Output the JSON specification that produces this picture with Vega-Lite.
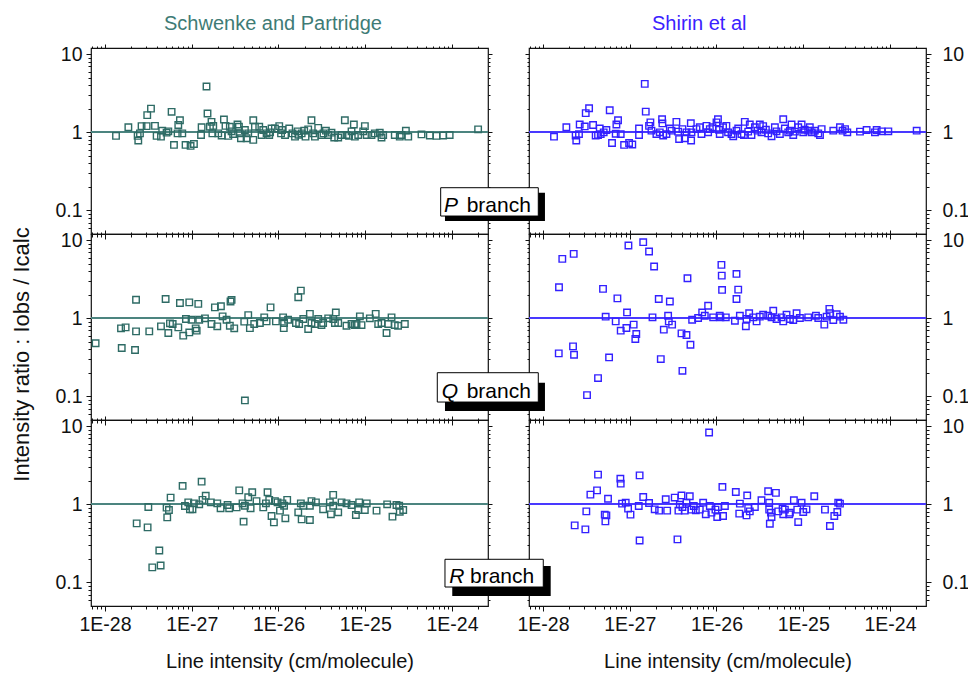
{
"$schema": "https://vega.github.io/schema/vega-lite/v6.json",
"background": "white",
"padding": {"left": 10, "top": 12, "right": 4, "bottom": 2},
"config": {
  "font": "Liberation Sans",
  "view": {"stroke": "#111", "strokeWidth": 1.2},
  "axis": {"domain": false, "grid": false, "tickColor": "#111", "tickWidth": 1, "labelFont": "Liberation Sans", "labelFontSize": 19.5, "labelColor": "#111", "labelFlush": false, "titleFont": "Liberation Sans", "titleFontSize": 20, "titleFontWeight": "normal", "titleColor": "#111"},
  "title": {"font": "Liberation Sans", "fontSize": 20, "fontWeight": "normal"}
},
"datasets": {
"spP": [{"x":1.34e-28,"y":0.9},{"x":1.86e-28,"y":1.16},{"x":2.38e-28,"y":0.9},{"x":2.42e-28,"y":0.785},{"x":2.53e-28,"y":0.97},{"x":2.64e-28,"y":1.2},{"x":3.02e-28,"y":1.2},{"x":3.07e-28,"y":1.66},{"x":3.39e-28,"y":2.01},{"x":3.77e-28,"y":1.21},{"x":3.94e-28,"y":0.9},{"x":4.42e-28,"y":0.88},{"x":4.57e-28,"y":1.05},{"x":5.13e-28,"y":0.99},{"x":5.37e-28,"y":1.03},{"x":5.86e-28,"y":1.83},{"x":6.24e-28,"y":0.69},{"x":6.87e-28,"y":0.97},{"x":7.0e-28,"y":1.24},{"x":7.31e-28,"y":1.43},{"x":7.78e-28,"y":0.97},{"x":8.49e-28,"y":0.69},{"x":9.7e-28,"y":0.67},{"x":1.06e-27,"y":0.71},{"x":1.28e-27,"y":0.925},{"x":1.3e-27,"y":1.16},{"x":1.48e-27,"y":3.86},{"x":1.52e-27,"y":1.74},{"x":1.62e-27,"y":1.18},{"x":1.69e-27,"y":1.36},{"x":1.73e-27,"y":0.97},{"x":1.77e-27,"y":1.21},{"x":2.02e-27,"y":0.97},{"x":2.21e-27,"y":0.91},{"x":2.35e-27,"y":1.46},{"x":2.45e-27,"y":1.21},{"x":2.64e-27,"y":0.9},{"x":2.75e-27,"y":1.18},{"x":2.88e-27,"y":1.03},{"x":3.0e-27,"y":0.95},{"x":3.37e-27,"y":1.26},{"x":3.5e-27,"y":1.18},{"x":3.59e-27,"y":0.97},{"x":3.69e-27,"y":0.84},{"x":4.1e-27,"y":1.07},{"x":4.29e-27,"y":0.84},{"x":4.48e-27,"y":0.97},{"x":5.12e-27,"y":0.8},{"x":5.12e-27,"y":1.43},{"x":5.35e-27,"y":1.18},{"x":6.0e-27,"y":1.18},{"x":6.38e-27,"y":0.925},{"x":6.67e-27,"y":1.07},{"x":7.29e-27,"y":0.97},{"x":7.82e-27,"y":0.925},{"x":8.0e-27,"y":1.0},{"x":8.32e-27,"y":1.12},{"x":9.1e-27,"y":1.12},{"x":1.02e-26,"y":1.2},{"x":1.07e-26,"y":0.97},{"x":1.1e-26,"y":1.07},{"x":1.19e-26,"y":0.925},{"x":1.33e-26,"y":1.12},{"x":1.45e-26,"y":0.97},{"x":1.55e-26,"y":0.88},{"x":1.66e-26,"y":1.03},{"x":1.7e-26,"y":0.93},{"x":1.85e-26,"y":0.97},{"x":1.98e-26,"y":1.05},{"x":2.05e-26,"y":0.88},{"x":2.2e-26,"y":1.09},{"x":2.4e-26,"y":1.43},{"x":2.51e-26,"y":0.97},{"x":2.63e-26,"y":0.88},{"x":2.87e-26,"y":1.14},{"x":3.13e-26,"y":0.925},{"x":3.3e-26,"y":0.97},{"x":3.52e-26,"y":1.05},{"x":3.74e-26,"y":0.925},{"x":4.08e-26,"y":0.99},{"x":4.39e-26,"y":0.86},{"x":4.88e-26,"y":0.86},{"x":5.33e-26,"y":0.925},{"x":5.82e-26,"y":1.43},{"x":6.08e-26,"y":0.925},{"x":6.5e-26,"y":0.9},{"x":6.95e-26,"y":1.03},{"x":7.39e-26,"y":1.26},{"x":7.59e-26,"y":0.88},{"x":8.3e-26,"y":0.925},{"x":9.47e-26,"y":1.03},{"x":9.9e-26,"y":1.2},{"x":1.04e-25,"y":0.925},{"x":1.18e-25,"y":0.925},{"x":1.29e-25,"y":0.97},{"x":1.47e-25,"y":0.99},{"x":1.54e-25,"y":0.86},{"x":1.61e-25,"y":0.925},{"x":2.19e-25,"y":0.925},{"x":2.5e-25,"y":0.88},{"x":2.62e-25,"y":0.925},{"x":2.94e-25,"y":1.05},{"x":3.13e-25,"y":0.88},{"x":4.45e-25,"y":0.94},{"x":5.55e-25,"y":0.91},{"x":6.62e-25,"y":0.9},{"x":7.9e-25,"y":0.91},{"x":9.4e-25,"y":0.925},{"x":2.0e-24,"y":1.09}],
"spQ": [{"x":7.8e-29,"y":0.479},{"x":1.53e-28,"y":0.745},{"x":1.56e-28,"y":0.417},{"x":1.73e-28,"y":0.767},{"x":2.28e-28,"y":1.73},{"x":2.28e-28,"y":0.681},{"x":2.22e-28,"y":0.393},{"x":3.24e-28,"y":0.681},{"x":4.42e-28,"y":0.79},{"x":5.0e-28,"y":1.77},{"x":5.37e-28,"y":0.649},{"x":5.61e-28,"y":0.863},{"x":6.03e-28,"y":0.846},{"x":7.0e-28,"y":0.767},{"x":7.31e-28,"y":1.57},{"x":7.98e-28,"y":0.6},{"x":8.57e-28,"y":0.98},{"x":9.37e-28,"y":1.6},{"x":9.37e-28,"y":0.66},{"x":9.96e-28,"y":0.96},{"x":1.11e-27,"y":0.745},{"x":1.14e-27,"y":0.695},{"x":1.19e-27,"y":1.53},{"x":1.22e-27,"y":0.96},{"x":1.42e-27,"y":1.0},{"x":1.69e-27,"y":0.846},{"x":1.85e-27,"y":1.38},{"x":1.97e-27,"y":0.79},{"x":2.17e-27,"y":1.43},{"x":2.27e-27,"y":1.06},{"x":2.52e-27,"y":0.96},{"x":2.75e-27,"y":0.805},{"x":2.8e-27,"y":1.64},{"x":2.88e-27,"y":1.72},{"x":3.09e-27,"y":0.745},{"x":4.03e-27,"y":0.906},{"x":4.1e-27,"y":0.089},{"x":4.48e-27,"y":1.1},{"x":4.68e-27,"y":0.75},{"x":5.25e-27,"y":0.846},{"x":6.1e-27,"y":0.87},{"x":6.85e-27,"y":1.03},{"x":7.29e-27,"y":0.915},{"x":8.1e-27,"y":1.38},{"x":9.34e-27,"y":0.915},{"x":1.13e-26,"y":1.03},{"x":1.15e-26,"y":0.75},{"x":1.16e-26,"y":0.87},{"x":1.29e-26,"y":0.96},{"x":1.59e-26,"y":0.87},{"x":1.69e-26,"y":1.86},{"x":1.81e-26,"y":2.26},{"x":1.73e-26,"y":0.846},{"x":1.93e-26,"y":0.98},{"x":2.2e-26,"y":0.73},{"x":2.3e-26,"y":1.14},{"x":2.4e-26,"y":0.87},{"x":2.63e-26,"y":0.846},{"x":2.87e-26,"y":0.98},{"x":3.13e-26,"y":0.82},{"x":3.27e-26,"y":0.87},{"x":3.74e-26,"y":1.0},{"x":4.28e-26,"y":0.98},{"x":4.47e-26,"y":0.87},{"x":4.58e-26,"y":1.19},{"x":4.88e-26,"y":0.87},{"x":6.08e-26,"y":0.805},{"x":6.95e-26,"y":0.846},{"x":7.59e-26,"y":0.82},{"x":7.93e-26,"y":0.846},{"x":8.67e-26,"y":1.06},{"x":9.06e-26,"y":0.82},{"x":1.13e-25,"y":1.0},{"x":1.32e-25,"y":1.14},{"x":1.41e-25,"y":0.846},{"x":1.54e-25,"y":0.87},{"x":1.76e-25,"y":0.649},{"x":1.84e-25,"y":0.846},{"x":2.01e-25,"y":1.03},{"x":2.19e-25,"y":0.82},{"x":2.39e-25,"y":0.805},{"x":2.86e-25,"y":0.846}],
"spR": [{"x":2.32e-28,"y":0.571},{"x":3.1e-28,"y":0.507},{"x":3.16e-28,"y":0.924},{"x":3.51e-28,"y":0.156},{"x":4.23e-28,"y":0.257},{"x":4.38e-28,"y":0.165},{"x":5.13e-28,"y":0.906},{"x":5.22e-28,"y":0.681},{"x":5.46e-28,"y":0.846},{"x":5.71e-28,"y":1.22},{"x":7.85e-28,"y":1.72},{"x":8.35e-28,"y":0.952},{"x":9.12e-28,"y":1.06},{"x":9.53e-28,"y":0.863},{"x":1.02e-27,"y":0.863},{"x":1.06e-27,"y":1.03},{"x":1.22e-27,"y":1.0},{"x":1.3e-27,"y":1.95},{"x":1.33e-27,"y":1.14},{"x":1.45e-27,"y":1.29},{"x":1.66e-27,"y":1.06},{"x":1.97e-27,"y":1.03},{"x":2.15e-27,"y":0.889},{"x":2.59e-27,"y":0.98},{"x":2.7e-27,"y":0.889},{"x":3.29e-27,"y":0.915},{"x":3.53e-27,"y":1.51},{"x":3.85e-27,"y":1.03},{"x":3.96e-27,"y":0.6},{"x":4.1e-27,"y":0.96},{"x":4.48e-27,"y":1.23},{"x":4.77e-27,"y":0.889},{"x":4.98e-27,"y":1.43},{"x":5.58e-27,"y":1.1},{"x":6.67e-27,"y":0.915},{"x":7.16e-27,"y":1.03},{"x":7.48e-27,"y":1.43},{"x":7.82e-27,"y":1.14},{"x":8.32e-27,"y":0.709},{"x":8.85e-27,"y":0.588},{"x":9.1e-27,"y":1.1},{"x":9.75e-27,"y":1.06},{"x":1.04e-26,"y":0.83},{"x":1.11e-26,"y":1.03},{"x":1.16e-26,"y":0.96},{"x":1.2e-26,"y":0.662},{"x":1.26e-26,"y":1.14},{"x":1.69e-26,"y":0.79},{"x":1.81e-26,"y":1.03},{"x":1.85e-26,"y":0.642},{"x":1.93e-26,"y":0.96},{"x":2.3e-26,"y":0.96},{"x":2.3e-26,"y":0.63},{"x":2.4e-26,"y":1.1},{"x":2.7e-26,"y":1.06},{"x":3.27e-26,"y":0.863},{"x":3.91e-26,"y":1.06},{"x":4.02e-26,"y":0.745},{"x":4.27e-26,"y":1.32},{"x":4.27e-26,"y":0.96},{"x":4.88e-26,"y":0.79},{"x":5.33e-26,"y":1.06},{"x":6.08e-26,"y":1.03},{"x":6.95e-26,"y":0.98},{"x":7.8e-26,"y":0.73},{"x":8.3e-26,"y":0.846},{"x":8.51e-26,"y":1.06},{"x":9.89e-26,"y":0.846},{"x":1.04e-25,"y":1.03},{"x":1.35e-25,"y":0.83},{"x":1.79e-25,"y":1.0},{"x":2.06e-25,"y":0.695},{"x":2.29e-25,"y":0.98},{"x":2.46e-25,"y":0.96},{"x":2.5e-25,"y":0.805},{"x":2.74e-25,"y":0.846}],
"shP": [{"x":1.34e-28,"y":0.88},{"x":1.86e-28,"y":1.16},{"x":2.38e-28,"y":0.91},{"x":2.42e-28,"y":0.785},{"x":2.6e-28,"y":0.95},{"x":2.65e-28,"y":1.26},{"x":3.03e-28,"y":1.19},{"x":3.11e-28,"y":1.76},{"x":3.4e-28,"y":2.03},{"x":3.78e-28,"y":1.24},{"x":4.05e-28,"y":0.91},{"x":4.31e-28,"y":0.925},{"x":4.51e-28,"y":1.12},{"x":4.63e-28,"y":0.95},{"x":5.01e-28,"y":1.0},{"x":5.38e-28,"y":1.07},{"x":5.88e-28,"y":1.92},{"x":6.25e-28,"y":0.73},{"x":6.89e-28,"y":0.96},{"x":7.02e-28,"y":1.26},{"x":7.33e-28,"y":1.43},{"x":7.87e-28,"y":0.95},{"x":8.61e-28,"y":0.69},{"x":9.83e-28,"y":0.73},{"x":1.07e-27,"y":0.7},{"x":1.28e-27,"y":1.12},{"x":1.28e-27,"y":0.925},{"x":1.49e-27,"y":4.17},{"x":1.53e-27,"y":1.84},{"x":1.67e-27,"y":1.21},{"x":1.73e-27,"y":1.34},{"x":1.78e-27,"y":1.05},{"x":2.03e-27,"y":0.95},{"x":2.22e-27,"y":1.0},{"x":2.36e-27,"y":1.47},{"x":2.38e-27,"y":1.3},{"x":2.43e-27,"y":0.91},{"x":2.65e-27,"y":0.95},{"x":2.9e-27,"y":1.12},{"x":3.03e-27,"y":1.05},{"x":3.45e-27,"y":1.36},{"x":3.61e-27,"y":1.02},{"x":3.71e-27,"y":0.82},{"x":4.05e-27,"y":1.1},{"x":4.31e-27,"y":0.84},{"x":4.51e-27,"y":1.0},{"x":5.06e-27,"y":1.31},{"x":5.1e-27,"y":0.785},{"x":5.15e-27,"y":1.0},{"x":5.88e-27,"y":1.1},{"x":6.42e-27,"y":1.16},{"x":6.71e-27,"y":0.95},{"x":7.67e-27,"y":1.21},{"x":8.01e-27,"y":1.0},{"x":8.38e-27,"y":1.1},{"x":8.99e-27,"y":1.16},{"x":1.0e-26,"y":1.34},{"x":1.04e-26,"y":1.47},{"x":1.07e-26,"y":1.08},{"x":1.09e-26,"y":0.95},{"x":1.19e-26,"y":1.16},{"x":1.3e-26,"y":1.21},{"x":1.36e-26,"y":1.0},{"x":1.49e-26,"y":0.95},{"x":1.56e-26,"y":0.89},{"x":1.7e-26,"y":1.05},{"x":1.78e-26,"y":1.12},{"x":1.94e-26,"y":0.95},{"x":2.07e-26,"y":0.925},{"x":2.12e-26,"y":1.36},{"x":2.32e-26,"y":1.02},{"x":2.42e-26,"y":1.26},{"x":2.53e-26,"y":0.925},{"x":2.77e-26,"y":1.16},{"x":2.97e-26,"y":1.05},{"x":3.16e-26,"y":1.26},{"x":3.3e-26,"y":1.0},{"x":3.45e-26,"y":1.2},{"x":3.71e-26,"y":1.08},{"x":3.94e-26,"y":0.97},{"x":4.31e-26,"y":0.89},{"x":4.71e-26,"y":1.16},{"x":4.92e-26,"y":1.03},{"x":5.38e-26,"y":0.95},{"x":5.88e-26,"y":1.47},{"x":6.14e-26,"y":1.12},{"x":6.71e-26,"y":1.0},{"x":7.02e-26,"y":1.05},{"x":7.33e-26,"y":1.26},{"x":7.67e-26,"y":0.925},{"x":8.01e-26,"y":1.02},{"x":8.75e-26,"y":1.16},{"x":9.57e-26,"y":1.26},{"x":1.0e-25,"y":1.0},{"x":1.04e-25,"y":1.08},{"x":1.14e-25,"y":1.05},{"x":1.19e-25,"y":1.16},{"x":1.25e-25,"y":1.0},{"x":1.36e-25,"y":1.05},{"x":1.49e-25,"y":0.97},{"x":1.56e-25,"y":0.925},{"x":1.63e-25,"y":1.1},{"x":2.22e-25,"y":1.05},{"x":2.65e-25,"y":1.16},{"x":2.84e-25,"y":1.05},{"x":3.03e-25,"y":1.1},{"x":3.22e-25,"y":1.0},{"x":4.51e-25,"y":1.02},{"x":5.38e-25,"y":1.07},{"x":6.71e-25,"y":1.0},{"x":7.02e-25,"y":1.07},{"x":8.01e-25,"y":1.03},{"x":9.57e-25,"y":1.03},{"x":2.03e-24,"y":1.05}],
"shQ": [{"x":1.53e-28,"y":2.5},{"x":1.52e-28,"y":0.356},{"x":1.67e-28,"y":5.77},{"x":2.22e-28,"y":0.438},{"x":2.26e-28,"y":6.68},{"x":2.28e-28,"y":0.342},{"x":3.22e-28,"y":0.104},{"x":4.31e-28,"y":0.172},{"x":4.92e-28,"y":2.38},{"x":5.28e-28,"y":1.05},{"x":5.78e-28,"y":0.316},{"x":6.89e-28,"y":0.915},{"x":7.21e-28,"y":1.8},{"x":7.87e-28,"y":0.695},{"x":9.15e-28,"y":0.752},{"x":9.31e-28,"y":1.19},{"x":9.66e-28,"y":8.55},{"x":1.11e-27,"y":0.83},{"x":1.16e-27,"y":0.543},{"x":1.19e-27,"y":0.63},{"x":1.43e-27,"y":9.43},{"x":1.67e-27,"y":7.16},{"x":1.83e-27,"y":1.03},{"x":1.91e-27,"y":4.6},{"x":2.16e-27,"y":1.77},{"x":2.28e-27,"y":0.301},{"x":2.47e-27,"y":0.716},{"x":2.77e-27,"y":1.08},{"x":2.82e-27,"y":0.915},{"x":2.9e-27,"y":1.64},{"x":3.08e-27,"y":0.83},{"x":3.95e-27,"y":0.642},{"x":4.05e-27,"y":0.213},{"x":4.51e-27,"y":0.612},{"x":4.63e-27,"y":3.26},{"x":5.01e-27,"y":0.46},{"x":5.24e-27,"y":0.96},{"x":6.14e-27,"y":1.01},{"x":6.84e-27,"y":1.19},{"x":7.33e-27,"y":1.08},{"x":8.01e-27,"y":1.45},{"x":9.15e-27,"y":1.03},{"x":1.09e-26,"y":1.08},{"x":1.11e-26,"y":1.03},{"x":1.14e-26,"y":4.83},{"x":1.15e-26,"y":3.52},{"x":1.16e-26,"y":2.31},{"x":1.28e-26,"y":1.03},{"x":1.63e-26,"y":0.93},{"x":1.7e-26,"y":3.7},{"x":1.78e-26,"y":2.33},{"x":1.7e-26,"y":1.77},{"x":1.86e-26,"y":1.08},{"x":2.18e-26,"y":0.79},{"x":2.22e-26,"y":0.98},{"x":2.38e-26,"y":1.16},{"x":2.65e-26,"y":1.03},{"x":2.9e-26,"y":0.915},{"x":3.16e-26,"y":1.05},{"x":3.45e-26,"y":1.11},{"x":3.94e-26,"y":1.08},{"x":4.31e-26,"y":1.03},{"x":4.51e-26,"y":1.25},{"x":4.92e-26,"y":0.98},{"x":5.62e-26,"y":1.03},{"x":5.88e-26,"y":0.915},{"x":6.42e-26,"y":1.11},{"x":7.02e-26,"y":0.98},{"x":7.67e-26,"y":0.95},{"x":8.38e-26,"y":1.16},{"x":9.15e-26,"y":1.01},{"x":1.14e-25,"y":1.03},{"x":1.4e-25,"y":1.08},{"x":1.49e-25,"y":1.01},{"x":1.75e-25,"y":0.83},{"x":1.86e-25,"y":1.05},{"x":2.0e-25,"y":1.32},{"x":2.03e-25,"y":1.16},{"x":2.22e-25,"y":0.95},{"x":2.43e-25,"y":1.13},{"x":2.65e-25,"y":1.05},{"x":2.9e-25,"y":0.96}],
"shR": [{"x":2.32e-28,"y":0.538},{"x":3.08e-28,"y":0.478},{"x":3.16e-28,"y":0.813},{"x":3.52e-28,"y":1.33},{"x":4.2e-28,"y":1.51},{"x":4.31e-28,"y":2.4},{"x":5.15e-28,"y":0.738},{"x":5.24e-28,"y":0.605},{"x":5.38e-28,"y":0.723},{"x":5.62e-28,"y":1.18},{"x":7.8e-28,"y":2.13},{"x":7.87e-28,"y":1.84},{"x":8.16e-28,"y":1.02},{"x":8.99e-28,"y":1.05},{"x":9.57e-28,"y":0.88},{"x":1.02e-27,"y":0.738},{"x":1.27e-27,"y":0.952},{"x":1.3e-27,"y":2.35},{"x":1.3e-27,"y":0.345},{"x":1.43e-27,"y":1.24},{"x":1.67e-27,"y":1.04},{"x":1.94e-27,"y":0.863},{"x":2.18e-27,"y":0.83},{"x":2.6e-27,"y":1.16},{"x":2.7e-27,"y":0.83},{"x":3.3e-27,"y":1.22},{"x":3.55e-27,"y":0.356},{"x":3.64e-27,"y":0.83},{"x":3.78e-27,"y":0.99},{"x":3.95e-27,"y":1.3},{"x":4.05e-27,"y":0.924},{"x":4.31e-27,"y":0.83},{"x":4.51e-27,"y":1.05},{"x":4.92e-27,"y":1.27},{"x":5.15e-27,"y":0.855},{"x":5.47e-27,"y":0.952},{"x":5.78e-27,"y":0.838},{"x":6.42e-27,"y":0.855},{"x":7.02e-27,"y":1.05},{"x":7.53e-27,"y":0.745},{"x":8.22e-27,"y":8.3},{"x":8.38e-27,"y":0.952},{"x":8.75e-27,"y":0.782},{"x":9.73e-27,"y":0.855},{"x":1.02e-26,"y":0.688},{"x":1.04e-26,"y":0.924},{"x":1.17e-26,"y":1.67},{"x":1.19e-26,"y":0.709},{"x":1.25e-26,"y":0.952},{"x":1.67e-26,"y":1.44},{"x":1.83e-26,"y":0.76},{"x":1.86e-26,"y":1.02},{"x":2.22e-26,"y":0.723},{"x":2.26e-26,"y":1.3},{"x":2.32e-26,"y":0.897},{"x":2.42e-26,"y":0.813},{"x":2.77e-26,"y":0.924},{"x":3.3e-26,"y":1.13},{"x":3.94e-26,"y":1.47},{"x":4.05e-26,"y":1.05},{"x":4.05e-26,"y":0.855},{"x":4.12e-26,"y":0.565},{"x":4.24e-26,"y":0.782},{"x":4.31e-26,"y":0.688},{"x":4.84e-26,"y":1.4},{"x":5.15e-26,"y":0.813},{"x":5.78e-26,"y":0.88},{"x":5.88e-26,"y":0.745},{"x":6.14e-26,"y":0.855},{"x":6.89e-26,"y":0.745},{"x":7.02e-26,"y":0.782},{"x":7.8e-26,"y":1.13},{"x":8.53e-26,"y":0.855},{"x":8.75e-26,"y":0.593},{"x":9.57e-26,"y":1.05},{"x":1.0e-25,"y":0.797},{"x":1.09e-25,"y":0.863},{"x":1.34e-25,"y":1.27},{"x":1.78e-25,"y":0.855},{"x":2.03e-25,"y":0.528},{"x":2.28e-25,"y":0.709},{"x":2.47e-25,"y":0.797},{"x":2.53e-25,"y":1.05},{"x":2.65e-25,"y":1.02}]
},
"columns": 2,
"spacing": {"row": 0, "column": 41},
"bounds": "flush",
"concat": [
{
 "width": 397, "height": 186,
 "title": {"text": "Schwenke and Partridge", "color": "#3e7b75", "anchor": "start", "frame": "group", "dx": 73, "offset": -6, "baseline": "alphabetic"},
 "data": {"name": "spP"},
 "layer": [
  {"mark": {"type": "rule", "color": "#4b857f", "strokeWidth": 1.3}, "encoding": {"y": {"datum": 1, "type": "quantitative", "scale": {"type": "log", "domain": [0.05, 12], "nice": false}, "axis": null}}},
  {"mark": {"type": "square", "filled": false, "size": 42, "strokeWidth": 1.4, "color": "#2e6b65", "opacity": 1},
   "encoding": {"x": {"field": "x", "type": "quantitative", "scale": {"type": "log", "domain": [6.9e-29, 2.6e-24], "nice": false}, "axis": {"orient": "bottom", "values": [1e-28,1e-27,1e-26,1e-25,1e-24], "labels": false, "tickSize": 5, "title": null}},
                "y": {"field": "y", "type": "quantitative", "scale": {"type": "log", "domain": [0.05, 12], "nice": false}, "axis": {"orient": "left", "values": [0.1,1,10], "format": "~g", "tickSize": 5, "labelPadding": 4, "title": null}}}},
  {"mark": {"type": "point", "opacity": 0},
   "encoding": {"x": {"field": "x", "type": "quantitative", "scale": {"type": "log", "domain": [6.9e-29, 2.6e-24], "nice": false}, "axis": {"orient": "bottom", "values": [7e-29,8e-29,9e-29,2e-28,3e-28,4e-28,5e-28,6e-28,7e-28,8e-28,9e-28,2e-27,3e-27,4e-27,5e-27,6e-27,7e-27,8e-27,9e-27,2e-26,3e-26,4e-26,5e-26,6e-26,7e-26,8e-26,9e-26,2e-25,3e-25,4e-25,5e-25,6e-25,7e-25,8e-25,9e-25,2e-24], "labels": false, "tickSize": 3, "title": null}},
                "y": {"field": "y", "type": "quantitative", "scale": {"type": "log", "domain": [0.05, 12], "nice": false}, "axis": {"orient": "left", "values": [0.06,0.07,0.08,0.09,0.2,0.3,0.4,0.5,0.6,0.7,0.8,0.9,2,3,4,5,6,7,8,9], "labels": false, "tickSize": 3, "title": null}}}},
  {"mark": {"type": "point", "opacity": 0},
   "encoding": {"x": {"field": "x", "type": "quantitative", "scale": {"type": "log", "domain": [6.9e-29, 2.6e-24], "nice": false}, "axis": {"orient": "top", "values": [1e-28,1e-27,1e-26,1e-25,1e-24], "labels": false, "tickSize": 4, "title": null}},
                "y": {"field": "y", "type": "quantitative", "scale": {"type": "log", "domain": [0.05, 12], "nice": false}, "axis": {"orient": "right", "values": [0.1,1,10], "labels": false, "tickSize": 4, "title": null}}}},
  {"mark": {"type": "point", "opacity": 0},
   "encoding": {"x": {"field": "x", "type": "quantitative", "scale": {"type": "log", "domain": [6.9e-29, 2.6e-24], "nice": false}, "axis": {"orient": "top", "values": [7e-29,8e-29,9e-29,2e-28,3e-28,4e-28,5e-28,6e-28,7e-28,8e-28,9e-28,2e-27,3e-27,4e-27,5e-27,6e-27,7e-27,8e-27,9e-27,2e-26,3e-26,4e-26,5e-26,6e-26,7e-26,8e-26,9e-26,2e-25,3e-25,4e-25,5e-25,6e-25,7e-25,8e-25,9e-25,2e-24], "labels": false, "tickSize": 2, "title": null}},
                "y": {"field": "y", "type": "quantitative", "scale": {"type": "log", "domain": [0.05, 12], "nice": false}, "axis": {"orient": "right", "values": [0.06,0.07,0.08,0.09,0.2,0.3,0.4,0.5,0.6,0.7,0.8,0.9,2,3,4,5,6,7,8,9], "labels": false, "tickSize": 2, "title": null}}}}
 ],
 "resolve": {"axis": {"x": "independent", "y": "independent"}}
},
{
 "width": 397, "height": 186,
 "title": {"text": "Shirin et al", "color": "#3b22ff", "anchor": "start", "frame": "group", "dx": 123, "offset": -6, "baseline": "alphabetic"},
 "data": {"name": "shP"},
 "layer": [
  {"mark": {"type": "rule", "color": "#4a3aff", "strokeWidth": 1.3}, "encoding": {"y": {"datum": 1, "type": "quantitative", "scale": {"type": "log", "domain": [0.05, 12], "nice": false}, "axis": null}}},
  {"mark": {"type": "square", "filled": false, "size": 42, "strokeWidth": 1.4, "color": "#3320ff", "opacity": 1},
   "encoding": {"x": {"field": "x", "type": "quantitative", "scale": {"type": "log", "domain": [6.9e-29, 2.6e-24], "nice": false}, "axis": {"orient": "bottom", "values": [1e-28,1e-27,1e-26,1e-25,1e-24], "labels": false, "tickSize": 5, "title": null}},
                "y": {"field": "y", "type": "quantitative", "scale": {"type": "log", "domain": [0.05, 12], "nice": false}, "axis": {"orient": "right", "values": [0.1,1,10], "format": "~g", "tickSize": 5, "labelPadding": 11, "title": null}}}},
  {"mark": {"type": "point", "opacity": 0},
   "encoding": {"x": {"field": "x", "type": "quantitative", "scale": {"type": "log", "domain": [6.9e-29, 2.6e-24], "nice": false}, "axis": {"orient": "bottom", "values": [7e-29,8e-29,9e-29,2e-28,3e-28,4e-28,5e-28,6e-28,7e-28,8e-28,9e-28,2e-27,3e-27,4e-27,5e-27,6e-27,7e-27,8e-27,9e-27,2e-26,3e-26,4e-26,5e-26,6e-26,7e-26,8e-26,9e-26,2e-25,3e-25,4e-25,5e-25,6e-25,7e-25,8e-25,9e-25,2e-24], "labels": false, "tickSize": 3, "title": null}},
                "y": {"field": "y", "type": "quantitative", "scale": {"type": "log", "domain": [0.05, 12], "nice": false}, "axis": {"orient": "right", "values": [0.06,0.07,0.08,0.09,0.2,0.3,0.4,0.5,0.6,0.7,0.8,0.9,2,3,4,5,6,7,8,9], "labels": false, "tickSize": 3, "title": null}}}},
  {"mark": {"type": "point", "opacity": 0},
   "encoding": {"x": {"field": "x", "type": "quantitative", "scale": {"type": "log", "domain": [6.9e-29, 2.6e-24], "nice": false}, "axis": {"orient": "top", "values": [1e-28,1e-27,1e-26,1e-25,1e-24], "labels": false, "tickSize": 4, "title": null}},
                "y": {"field": "y", "type": "quantitative", "scale": {"type": "log", "domain": [0.05, 12], "nice": false}, "axis": {"orient": "left", "values": [0.1,1,10], "labels": false, "tickSize": 4, "title": null}}}},
  {"mark": {"type": "point", "opacity": 0},
   "encoding": {"x": {"field": "x", "type": "quantitative", "scale": {"type": "log", "domain": [6.9e-29, 2.6e-24], "nice": false}, "axis": {"orient": "top", "values": [7e-29,8e-29,9e-29,2e-28,3e-28,4e-28,5e-28,6e-28,7e-28,8e-28,9e-28,2e-27,3e-27,4e-27,5e-27,6e-27,7e-27,8e-27,9e-27,2e-26,3e-26,4e-26,5e-26,6e-26,7e-26,8e-26,9e-26,2e-25,3e-25,4e-25,5e-25,6e-25,7e-25,8e-25,9e-25,2e-24], "labels": false, "tickSize": 2, "title": null}},
                "y": {"field": "y", "type": "quantitative", "scale": {"type": "log", "domain": [0.05, 12], "nice": false}, "axis": {"orient": "left", "values": [0.06,0.07,0.08,0.09,0.2,0.3,0.4,0.5,0.6,0.7,0.8,0.9,2,3,4,5,6,7,8,9], "labels": false, "tickSize": 2, "title": null}}}},
  {"data": {"values": [{}]}, "mark": {"type": "rect", "color": "black"},
   "encoding": {"x": {"datum": 7.42e-30, "type": "quantitative", "scale": {"type": "log", "domain": [6.9e-29, 2.6e-24], "nice": false}, "axis": null}, "x2": {"datum": 1.054e-28},
                "y": {"datum": 0.1688, "type": "quantitative", "scale": {"type": "log", "domain": [0.05, 12], "nice": false}, "axis": null}, "y2": {"datum": 0.0733}}},
  {"data": {"values": [{}]}, "mark": {"type": "rect", "fill": "white", "stroke": "black", "strokeWidth": 1},
   "encoding": {"x": {"datum": 6.62e-30, "type": "quantitative", "scale": {"type": "log", "domain": [6.9e-29, 2.6e-24], "nice": false}, "axis": null}, "x2": {"datum": 8.83e-29},
                "y": {"datum": 0.1956, "type": "quantitative", "scale": {"type": "log", "domain": [0.05, 12], "nice": false}, "axis": null}, "y2": {"datum": 0.0849}}},
  {"data": {"values": [{}]}, "mark": {"type": "text", "text": "P", "font": "Liberation Sans", "fontStyle": "italic", "fontSize": 21, "align": "left", "baseline": "alphabetic", "color": "black"},
   "encoding": {"x": {"datum": 7.22e-30, "type": "quantitative", "scale": {"type": "log", "domain": [6.9e-29, 2.6e-24], "nice": false}, "axis": null},
                "y": {"datum": 0.0964, "type": "quantitative", "scale": {"type": "log", "domain": [0.05, 12], "nice": false}, "axis": null}}},
  {"data": {"values": [{}]}, "mark": {"type": "text", "text": "branch", "font": "Liberation Sans", "fontSize": 21, "align": "left", "baseline": "alphabetic", "color": "black"},
   "encoding": {"x": {"datum": 1.32e-29, "type": "quantitative", "scale": {"type": "log", "domain": [6.9e-29, 2.6e-24], "nice": false}, "axis": null},
                "y": {"datum": 0.0964, "type": "quantitative", "scale": {"type": "log", "domain": [0.05, 12], "nice": false}, "axis": null}}}
 ],
 "resolve": {"axis": {"x": "independent", "y": "independent"}}
},
{
 "width": 397, "height": 186,
 "data": {"name": "spQ"},
 "layer": [
  {"mark": {"type": "rule", "color": "#4b857f", "strokeWidth": 1.3}, "encoding": {"y": {"datum": 1, "type": "quantitative", "scale": {"type": "log", "domain": [0.05, 12], "nice": false}, "axis": null}}},
  {"mark": {"type": "square", "filled": false, "size": 42, "strokeWidth": 1.4, "color": "#2e6b65", "opacity": 1},
   "encoding": {"x": {"field": "x", "type": "quantitative", "scale": {"type": "log", "domain": [6.9e-29, 2.6e-24], "nice": false}, "axis": {"orient": "bottom", "values": [1e-28,1e-27,1e-26,1e-25,1e-24], "labels": false, "tickSize": 5, "title": null}},
                "y": {"field": "y", "type": "quantitative", "scale": {"type": "log", "domain": [0.05, 12], "nice": false}, "axis": {"orient": "left", "values": [0.1,1,10], "format": "~g", "tickSize": 5, "labelPadding": 4, "title": "Intensity ratio : Iobs / Icalc", "titleFontSize": 22, "titlePadding": 21, "titleY": 120}}}},
  {"mark": {"type": "point", "opacity": 0},
   "encoding": {"x": {"field": "x", "type": "quantitative", "scale": {"type": "log", "domain": [6.9e-29, 2.6e-24], "nice": false}, "axis": {"orient": "bottom", "values": [7e-29,8e-29,9e-29,2e-28,3e-28,4e-28,5e-28,6e-28,7e-28,8e-28,9e-28,2e-27,3e-27,4e-27,5e-27,6e-27,7e-27,8e-27,9e-27,2e-26,3e-26,4e-26,5e-26,6e-26,7e-26,8e-26,9e-26,2e-25,3e-25,4e-25,5e-25,6e-25,7e-25,8e-25,9e-25,2e-24], "labels": false, "tickSize": 3, "title": null}},
                "y": {"field": "y", "type": "quantitative", "scale": {"type": "log", "domain": [0.05, 12], "nice": false}, "axis": {"orient": "left", "values": [0.06,0.07,0.08,0.09,0.2,0.3,0.4,0.5,0.6,0.7,0.8,0.9,2,3,4,5,6,7,8,9], "labels": false, "tickSize": 3, "title": null}}}},
  {"mark": {"type": "point", "opacity": 0},
   "encoding": {"x": {"field": "x", "type": "quantitative", "scale": {"type": "log", "domain": [6.9e-29, 2.6e-24], "nice": false}, "axis": {"orient": "top", "values": [1e-28,1e-27,1e-26,1e-25,1e-24], "labels": false, "tickSize": 4, "title": null}},
                "y": {"field": "y", "type": "quantitative", "scale": {"type": "log", "domain": [0.05, 12], "nice": false}, "axis": {"orient": "right", "values": [0.1,1,10], "labels": false, "tickSize": 4, "title": null}}}},
  {"mark": {"type": "point", "opacity": 0},
   "encoding": {"x": {"field": "x", "type": "quantitative", "scale": {"type": "log", "domain": [6.9e-29, 2.6e-24], "nice": false}, "axis": {"orient": "top", "values": [7e-29,8e-29,9e-29,2e-28,3e-28,4e-28,5e-28,6e-28,7e-28,8e-28,9e-28,2e-27,3e-27,4e-27,5e-27,6e-27,7e-27,8e-27,9e-27,2e-26,3e-26,4e-26,5e-26,6e-26,7e-26,8e-26,9e-26,2e-25,3e-25,4e-25,5e-25,6e-25,7e-25,8e-25,9e-25,2e-24], "labels": false, "tickSize": 2, "title": null}},
                "y": {"field": "y", "type": "quantitative", "scale": {"type": "log", "domain": [0.05, 12], "nice": false}, "axis": {"orient": "right", "values": [0.06,0.07,0.08,0.09,0.2,0.3,0.4,0.5,0.6,0.7,0.8,0.9,2,3,4,5,6,7,8,9], "labels": false, "tickSize": 2, "title": null}}}}
 ],
 "resolve": {"axis": {"x": "independent", "y": "independent"}}
},
{
 "width": 397, "height": 186,
 "data": {"name": "shQ"},
 "layer": [
  {"mark": {"type": "rule", "color": "#4a3aff", "strokeWidth": 1.3}, "encoding": {"y": {"datum": 1, "type": "quantitative", "scale": {"type": "log", "domain": [0.05, 12], "nice": false}, "axis": null}}},
  {"mark": {"type": "square", "filled": false, "size": 42, "strokeWidth": 1.4, "color": "#3320ff", "opacity": 1},
   "encoding": {"x": {"field": "x", "type": "quantitative", "scale": {"type": "log", "domain": [6.9e-29, 2.6e-24], "nice": false}, "axis": {"orient": "bottom", "values": [1e-28,1e-27,1e-26,1e-25,1e-24], "labels": false, "tickSize": 5, "title": null}},
                "y": {"field": "y", "type": "quantitative", "scale": {"type": "log", "domain": [0.05, 12], "nice": false}, "axis": {"orient": "right", "values": [0.1,1,10], "format": "~g", "tickSize": 5, "labelPadding": 11, "title": null}}}},
  {"mark": {"type": "point", "opacity": 0},
   "encoding": {"x": {"field": "x", "type": "quantitative", "scale": {"type": "log", "domain": [6.9e-29, 2.6e-24], "nice": false}, "axis": {"orient": "bottom", "values": [7e-29,8e-29,9e-29,2e-28,3e-28,4e-28,5e-28,6e-28,7e-28,8e-28,9e-28,2e-27,3e-27,4e-27,5e-27,6e-27,7e-27,8e-27,9e-27,2e-26,3e-26,4e-26,5e-26,6e-26,7e-26,8e-26,9e-26,2e-25,3e-25,4e-25,5e-25,6e-25,7e-25,8e-25,9e-25,2e-24], "labels": false, "tickSize": 3, "title": null}},
                "y": {"field": "y", "type": "quantitative", "scale": {"type": "log", "domain": [0.05, 12], "nice": false}, "axis": {"orient": "right", "values": [0.06,0.07,0.08,0.09,0.2,0.3,0.4,0.5,0.6,0.7,0.8,0.9,2,3,4,5,6,7,8,9], "labels": false, "tickSize": 3, "title": null}}}},
  {"mark": {"type": "point", "opacity": 0},
   "encoding": {"x": {"field": "x", "type": "quantitative", "scale": {"type": "log", "domain": [6.9e-29, 2.6e-24], "nice": false}, "axis": {"orient": "top", "values": [1e-28,1e-27,1e-26,1e-25,1e-24], "labels": false, "tickSize": 4, "title": null}},
                "y": {"field": "y", "type": "quantitative", "scale": {"type": "log", "domain": [0.05, 12], "nice": false}, "axis": {"orient": "left", "values": [0.1,1,10], "labels": false, "tickSize": 4, "title": null}}}},
  {"mark": {"type": "point", "opacity": 0},
   "encoding": {"x": {"field": "x", "type": "quantitative", "scale": {"type": "log", "domain": [6.9e-29, 2.6e-24], "nice": false}, "axis": {"orient": "top", "values": [7e-29,8e-29,9e-29,2e-28,3e-28,4e-28,5e-28,6e-28,7e-28,8e-28,9e-28,2e-27,3e-27,4e-27,5e-27,6e-27,7e-27,8e-27,9e-27,2e-26,3e-26,4e-26,5e-26,6e-26,7e-26,8e-26,9e-26,2e-25,3e-25,4e-25,5e-25,6e-25,7e-25,8e-25,9e-25,2e-24], "labels": false, "tickSize": 2, "title": null}},
                "y": {"field": "y", "type": "quantitative", "scale": {"type": "log", "domain": [0.05, 12], "nice": false}, "axis": {"orient": "left", "values": [0.06,0.07,0.08,0.09,0.2,0.3,0.4,0.5,0.6,0.7,0.8,0.9,2,3,4,5,6,7,8,9], "labels": false, "tickSize": 2, "title": null}}}},
  {"data": {"values": [{}]}, "mark": {"type": "rect", "color": "black"},
   "encoding": {"x": {"datum": 7.42e-30, "type": "quantitative", "scale": {"type": "log", "domain": [6.9e-29, 2.6e-24], "nice": false}, "axis": null}, "x2": {"datum": 1.054e-28},
                "y": {"datum": 0.15, "type": "quantitative", "scale": {"type": "log", "domain": [0.05, 12], "nice": false}, "axis": null}, "y2": {"datum": 0.0652}}},
  {"data": {"values": [{}]}, "mark": {"type": "rect", "fill": "white", "stroke": "black", "strokeWidth": 1},
   "encoding": {"x": {"datum": 6.05e-30, "type": "quantitative", "scale": {"type": "log", "domain": [6.9e-29, 2.6e-24], "nice": false}, "axis": null}, "x2": {"datum": 8.83e-29},
                "y": {"datum": 0.2014, "type": "quantitative", "scale": {"type": "log", "domain": [0.05, 12], "nice": false}, "axis": null}, "y2": {"datum": 0.0849}}},
  {"data": {"values": [{}]}, "mark": {"type": "text", "text": "Q", "font": "Liberation Sans", "fontStyle": "italic", "fontSize": 21, "align": "left", "baseline": "alphabetic", "color": "black"},
   "encoding": {"x": {"datum": 6.8e-30, "type": "quantitative", "scale": {"type": "log", "domain": [6.9e-29, 2.6e-24], "nice": false}, "axis": null},
                "y": {"datum": 0.0965, "type": "quantitative", "scale": {"type": "log", "domain": [0.05, 12], "nice": false}, "axis": null}}},
  {"data": {"values": [{}]}, "mark": {"type": "text", "text": "branch", "font": "Liberation Sans", "fontSize": 21, "align": "left", "baseline": "alphabetic", "color": "black"},
   "encoding": {"x": {"datum": 1.32e-29, "type": "quantitative", "scale": {"type": "log", "domain": [6.9e-29, 2.6e-24], "nice": false}, "axis": null},
                "y": {"datum": 0.0965, "type": "quantitative", "scale": {"type": "log", "domain": [0.05, 12], "nice": false}, "axis": null}}}
 ],
 "resolve": {"axis": {"x": "independent", "y": "independent"}}
},
{
 "width": 397, "height": 186,
 "data": {"name": "spR"},
 "layer": [
  {"mark": {"type": "rule", "color": "#4b857f", "strokeWidth": 1.3}, "encoding": {"y": {"datum": 1, "type": "quantitative", "scale": {"type": "log", "domain": [0.05, 12], "nice": false}, "axis": null}}},
  {"mark": {"type": "square", "filled": false, "size": 42, "strokeWidth": 1.4, "color": "#2e6b65", "opacity": 1},
   "encoding": {"x": {"field": "x", "type": "quantitative", "scale": {"type": "log", "domain": [6.9e-29, 2.6e-24], "nice": false}, "axis": {"orient": "bottom", "values": [1e-28,1e-27,1e-26,1e-25,1e-24], "labelExpr": "'1E' + round(log(datum.value)/LN10)", "tickSize": 5, "labelPadding": 4, "title": "Line intensity (cm/molecule)", "titlePadding": 18}},
                "y": {"field": "y", "type": "quantitative", "scale": {"type": "log", "domain": [0.05, 12], "nice": false}, "axis": {"orient": "left", "values": [0.1,1,10], "format": "~g", "tickSize": 5, "labelPadding": 4, "title": null}}}},
  {"mark": {"type": "point", "opacity": 0},
   "encoding": {"x": {"field": "x", "type": "quantitative", "scale": {"type": "log", "domain": [6.9e-29, 2.6e-24], "nice": false}, "axis": {"orient": "bottom", "values": [7e-29,8e-29,9e-29,2e-28,3e-28,4e-28,5e-28,6e-28,7e-28,8e-28,9e-28,2e-27,3e-27,4e-27,5e-27,6e-27,7e-27,8e-27,9e-27,2e-26,3e-26,4e-26,5e-26,6e-26,7e-26,8e-26,9e-26,2e-25,3e-25,4e-25,5e-25,6e-25,7e-25,8e-25,9e-25,2e-24], "labels": false, "tickSize": 3, "title": null}},
                "y": {"field": "y", "type": "quantitative", "scale": {"type": "log", "domain": [0.05, 12], "nice": false}, "axis": {"orient": "left", "values": [0.06,0.07,0.08,0.09,0.2,0.3,0.4,0.5,0.6,0.7,0.8,0.9,2,3,4,5,6,7,8,9], "labels": false, "tickSize": 3, "title": null}}}},
  {"mark": {"type": "point", "opacity": 0},
   "encoding": {"x": {"field": "x", "type": "quantitative", "scale": {"type": "log", "domain": [6.9e-29, 2.6e-24], "nice": false}, "axis": {"orient": "top", "values": [1e-28,1e-27,1e-26,1e-25,1e-24], "labels": false, "tickSize": 4, "title": null}},
                "y": {"field": "y", "type": "quantitative", "scale": {"type": "log", "domain": [0.05, 12], "nice": false}, "axis": {"orient": "right", "values": [0.1,1,10], "labels": false, "tickSize": 4, "title": null}}}},
  {"mark": {"type": "point", "opacity": 0},
   "encoding": {"x": {"field": "x", "type": "quantitative", "scale": {"type": "log", "domain": [6.9e-29, 2.6e-24], "nice": false}, "axis": {"orient": "top", "values": [7e-29,8e-29,9e-29,2e-28,3e-28,4e-28,5e-28,6e-28,7e-28,8e-28,9e-28,2e-27,3e-27,4e-27,5e-27,6e-27,7e-27,8e-27,9e-27,2e-26,3e-26,4e-26,5e-26,6e-26,7e-26,8e-26,9e-26,2e-25,3e-25,4e-25,5e-25,6e-25,7e-25,8e-25,9e-25,2e-24], "labels": false, "tickSize": 2, "title": null}},
                "y": {"field": "y", "type": "quantitative", "scale": {"type": "log", "domain": [0.05, 12], "nice": false}, "axis": {"orient": "right", "values": [0.06,0.07,0.08,0.09,0.2,0.3,0.4,0.5,0.6,0.7,0.8,0.9,2,3,4,5,6,7,8,9], "labels": false, "tickSize": 2, "title": null}}}}
 ],
 "resolve": {"axis": {"x": "independent", "y": "independent"}}
},
{
 "width": 397, "height": 186,
 "data": {"name": "shR"},
 "layer": [
  {"mark": {"type": "rule", "color": "#4a3aff", "strokeWidth": 1.3}, "encoding": {"y": {"datum": 1, "type": "quantitative", "scale": {"type": "log", "domain": [0.05, 12], "nice": false}, "axis": null}}},
  {"mark": {"type": "square", "filled": false, "size": 42, "strokeWidth": 1.4, "color": "#3320ff", "opacity": 1},
   "encoding": {"x": {"field": "x", "type": "quantitative", "scale": {"type": "log", "domain": [6.9e-29, 2.6e-24], "nice": false}, "axis": {"orient": "bottom", "values": [1e-28,1e-27,1e-26,1e-25,1e-24], "labelExpr": "'1E' + round(log(datum.value)/LN10)", "tickSize": 5, "labelPadding": 4, "title": "Line intensity (cm/molecule)", "titlePadding": 18}},
                "y": {"field": "y", "type": "quantitative", "scale": {"type": "log", "domain": [0.05, 12], "nice": false}, "axis": {"orient": "right", "values": [0.1,1,10], "format": "~g", "tickSize": 5, "labelPadding": 11, "title": null}}}},
  {"mark": {"type": "point", "opacity": 0},
   "encoding": {"x": {"field": "x", "type": "quantitative", "scale": {"type": "log", "domain": [6.9e-29, 2.6e-24], "nice": false}, "axis": {"orient": "bottom", "values": [7e-29,8e-29,9e-29,2e-28,3e-28,4e-28,5e-28,6e-28,7e-28,8e-28,9e-28,2e-27,3e-27,4e-27,5e-27,6e-27,7e-27,8e-27,9e-27,2e-26,3e-26,4e-26,5e-26,6e-26,7e-26,8e-26,9e-26,2e-25,3e-25,4e-25,5e-25,6e-25,7e-25,8e-25,9e-25,2e-24], "labels": false, "tickSize": 3, "title": null}},
                "y": {"field": "y", "type": "quantitative", "scale": {"type": "log", "domain": [0.05, 12], "nice": false}, "axis": {"orient": "right", "values": [0.06,0.07,0.08,0.09,0.2,0.3,0.4,0.5,0.6,0.7,0.8,0.9,2,3,4,5,6,7,8,9], "labels": false, "tickSize": 3, "title": null}}}},
  {"mark": {"type": "point", "opacity": 0},
   "encoding": {"x": {"field": "x", "type": "quantitative", "scale": {"type": "log", "domain": [6.9e-29, 2.6e-24], "nice": false}, "axis": {"orient": "top", "values": [1e-28,1e-27,1e-26,1e-25,1e-24], "labels": false, "tickSize": 4, "title": null}},
                "y": {"field": "y", "type": "quantitative", "scale": {"type": "log", "domain": [0.05, 12], "nice": false}, "axis": {"orient": "left", "values": [0.1,1,10], "labels": false, "tickSize": 4, "title": null}}}},
  {"mark": {"type": "point", "opacity": 0},
   "encoding": {"x": {"field": "x", "type": "quantitative", "scale": {"type": "log", "domain": [6.9e-29, 2.6e-24], "nice": false}, "axis": {"orient": "top", "values": [7e-29,8e-29,9e-29,2e-28,3e-28,4e-28,5e-28,6e-28,7e-28,8e-28,9e-28,2e-27,3e-27,4e-27,5e-27,6e-27,7e-27,8e-27,9e-27,2e-26,3e-26,4e-26,5e-26,6e-26,7e-26,8e-26,9e-26,2e-25,3e-25,4e-25,5e-25,6e-25,7e-25,8e-25,9e-25,2e-24], "labels": false, "tickSize": 2, "title": null}},
                "y": {"field": "y", "type": "quantitative", "scale": {"type": "log", "domain": [0.05, 12], "nice": false}, "axis": {"orient": "left", "values": [0.06,0.07,0.08,0.09,0.2,0.3,0.4,0.5,0.6,0.7,0.8,0.9,2,3,4,5,6,7,8,9], "labels": false, "tickSize": 2, "title": null}}}},
  {"data": {"values": [{}]}, "mark": {"type": "rect", "color": "black"},
   "encoding": {"x": {"datum": 9.0e-30, "type": "quantitative", "scale": {"type": "log", "domain": [6.9e-29, 2.6e-24], "nice": false}, "axis": null}, "x2": {"datum": 1.227e-28},
                "y": {"datum": 0.1624, "type": "quantitative", "scale": {"type": "log", "domain": [0.05, 12], "nice": false}, "axis": null}, "y2": {"datum": 0.0671}}},
  {"data": {"values": [{}]}, "mark": {"type": "rect", "fill": "white", "stroke": "black", "strokeWidth": 1},
   "encoding": {"x": {"datum": 7.42e-30, "type": "quantitative", "scale": {"type": "log", "domain": [6.9e-29, 2.6e-24], "nice": false}, "axis": null}, "x2": {"datum": 1.008e-28},
                "y": {"datum": 0.198, "type": "quantitative", "scale": {"type": "log", "domain": [0.05, 12], "nice": false}, "axis": null}, "y2": {"datum": 0.0875}}},
  {"data": {"values": [{}]}, "mark": {"type": "text", "text": "R", "font": "Liberation Sans", "fontStyle": "italic", "fontSize": 21, "align": "left", "baseline": "alphabetic", "color": "black"},
   "encoding": {"x": {"datum": 8.32e-30, "type": "quantitative", "scale": {"type": "log", "domain": [6.9e-29, 2.6e-24], "nice": false}, "axis": null},
                "y": {"datum": 0.0993, "type": "quantitative", "scale": {"type": "log", "domain": [0.05, 12], "nice": false}, "axis": null}}},
  {"data": {"values": [{}]}, "mark": {"type": "text", "text": "branch", "font": "Liberation Sans", "fontSize": 21, "align": "left", "baseline": "alphabetic", "color": "black"},
   "encoding": {"x": {"datum": 1.44e-29, "type": "quantitative", "scale": {"type": "log", "domain": [6.9e-29, 2.6e-24], "nice": false}, "axis": null},
                "y": {"datum": 0.0993, "type": "quantitative", "scale": {"type": "log", "domain": [0.05, 12], "nice": false}, "axis": null}}}
 ],
 "resolve": {"axis": {"x": "independent", "y": "independent"}}
}
]
}
